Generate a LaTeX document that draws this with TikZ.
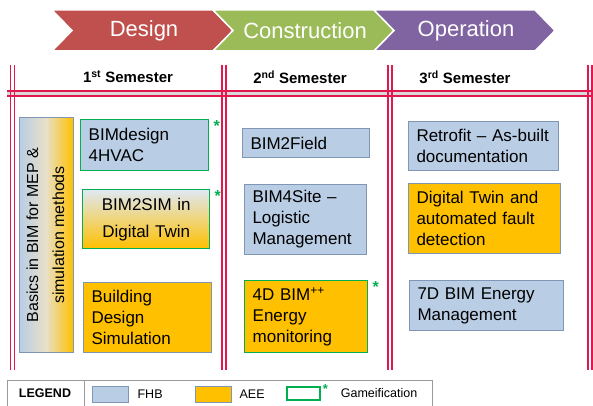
\documentclass[tikz,border=0pt]{standalone}
\usepackage{fontspec}
\usepackage{graphicx}
\setmainfont{Liberation Sans}
\usetikzlibrary{positioning}

\definecolor{designred}{HTML}{C0504D}
\definecolor{constrgreen}{HTML}{9BBB59}
\definecolor{operpurple}{HTML}{8064A2}
\definecolor{semred}{HTML}{E2174F}
\definecolor{fhbblue}{HTML}{B9CDE5}
\definecolor{aeeorange}{HTML}{FFC000}
\definecolor{boxedge}{HTML}{7F97B5}
\definecolor{gamegreen}{HTML}{00B050}
\definecolor{legendedge}{HTML}{9A9A9A}

\tikzset{
  redline/.style={draw=semred, line width=1.1pt},
  phase/.style={fill=#1, draw=white, line width=1.5pt},
  phasetext/.style={text=white, font=\fontsize{22}{24}\selectfont},
  semester/.style={font=\bfseries\fontsize{15}{18}\selectfont},
  course/.style={rectangle, anchor=north west, inner xsep=8pt, inner ysep=0pt,
    align=left, line width=1pt, font=\fontsize{17}{21}\selectfont},
  fhb/.style={course, fill=fhbblue, draw=boxedge},
  aee/.style={course, fill=aeeorange, draw=boxedge},
  game/.style={draw=gamegreen, line width=1.4pt},
  gamestar/.style={text=gamegreen, inner sep=0pt, anchor=north west,
    font=\bfseries\fontsize{16}{16}\selectfont},
  swatch/.style={minimum width=36pt, minimum height=16pt, inner sep=0pt, line width=0.8pt},
  legendtxt/.style={inner sep=0pt, font=\fontsize{12.5}{15}\selectfont},
}

\begin{document}
\begin{tikzpicture}[x=1pt,y=-1pt]
  \useasboundingbox (0,0) rectangle (593,406);
  \clip (0,0) rectangle (593,406);

  % phase chevrons
  \foreach \x/\name/\col in {52/Design/designred,213/Construction/constrgreen,374/Operation/operpurple}{
    \path[phase=\col] (\x,10) -- ++(161,0) -- ++(20,20.5) -- ++(-20,20.5) -- ++(-161,0) -- ++(20,-20.5) -- cycle;
    \node[phasetext] (\name) at (\x+92,30.5) {\name};
  }

  % semester grid
  \fill[black!15] (7,91) rectangle (593,96);
  \draw[redline] (7,91) -- (593,91) (7,96) -- (593,96);
  \foreach \x in {12.5,224,390,590}
    \draw[redline] (\x-2,65) -- (\x-2,370) (\x+2,65) -- (\x+2,370);

  \node[semester] (sem1) at (128,77) {1\textsuperscript{st} Semester};
  \node[semester] (sem2) at (300,77) {2\textsuperscript{nd} Semester};
  \node[semester] (sem3) at (465,77) {3\textsuperscript{rd} Semester};

  % 1st semester
  \node[draw=boxedge, line width=1pt, left color=fhbblue, right color=aeeorange,
    middle color={rgb,255:red,232;green,224;blue,200}, minimum width=54pt,
    minimum height=234pt, inner sep=0pt] (basics) at (46,235)
    {\rotatebox{90}{\fontsize{16}{26}\selectfont\begin{tabular}{@{}c@{}}Basics in BIM for MEP \&\\simulation methods\end{tabular}}};
  \node[fhb, game, text width=112pt, minimum height=51pt] (bimdesign) at (80,119) {BIMdesign\\4HVAC};
  \node[course, game, align=center, text width=111pt, minimum height=59pt,
    top color=fhbblue!45!white, middle color={rgb,255:red,212;green,196;blue,145},
    bottom color=aeeorange, font=\fontsize{17}{27}\selectfont] (bimsim) at (82,189) {BIM2SIM in\\Digital Twin};
  \node[aee, text width=112pt, minimum height=70pt] (bds) at (83,282) {Building\\Design\\Simulation};

  % 2nd semester
  \node[fhb, text width=111pt, minimum height=29pt] (bimfield) at (242,128) {BIM2Field};
  \node[fhb, text width=106pt, minimum height=70pt] (bimsite) at (244,184) {BIM4Site --\\Logistic\\Management};
  \node[aee, game, text width=107pt, minimum height=72pt] (bimenergy) at (244,280) {4D BIM\textsuperscript{++}\\Energy\\monitoring};

  % 3rd semester
  \node[fhb, text width=134pt, minimum height=49pt] (retrofit) at (408,121) {Retrofit -- As-built\\documentation};
  \node[aee, text width=136pt, minimum height=70pt] (twin) at (408,183) {Digital Twin and\\automated fault\\detection};
  \node[fhb, text width=138pt, minimum height=50pt] (bimseven) at (409,280) {7D BIM Energy\\Management};

  % gamification marks
  \node[gamestar] (star1) at ([xshift=4pt,yshift=-1pt]bimdesign.north east) {*};
  \node[gamestar] (star2) at ([xshift=4pt,yshift=-1pt]bimsim.north east) {*};
  \node[gamestar] (star3) at ([xshift=4pt,yshift=-1pt]bimenergy.north east) {*};

  % legend
  \draw[legendedge, line width=1pt] (7,380) rectangle (432,415);
  \draw[legendedge, line width=1pt] (84,380) -- (84,415);
  \node[font=\bfseries\fontsize{12.5}{15}\selectfont] (legend) at (45,393) {LEGEND};
  \node[swatch, fill=fhbblue, draw=boxedge] (keyfhb) at (110,394) {};
  \node[legendtxt, right=9pt of keyfhb] (fhbtext) {FHB};
  \node[swatch, fill=aeeorange, draw=boxedge] (keyaee) at (213,394) {};
  \node[legendtxt, right=8pt of keyaee] (aeetext) {AEE};
  \node[swatch, minimum width=33pt, minimum height=13pt, game] (keygame) at (303.5,393.5) {};
  \node[gamestar, font=\bfseries\fontsize{13}{13}\selectfont] (keystar) at ([xshift=2pt,yshift=2pt]keygame.north east) {*};
  \node[legendtxt, right=20pt of keygame] (gametext) {Gameification};
\end{tikzpicture}
\end{document}
